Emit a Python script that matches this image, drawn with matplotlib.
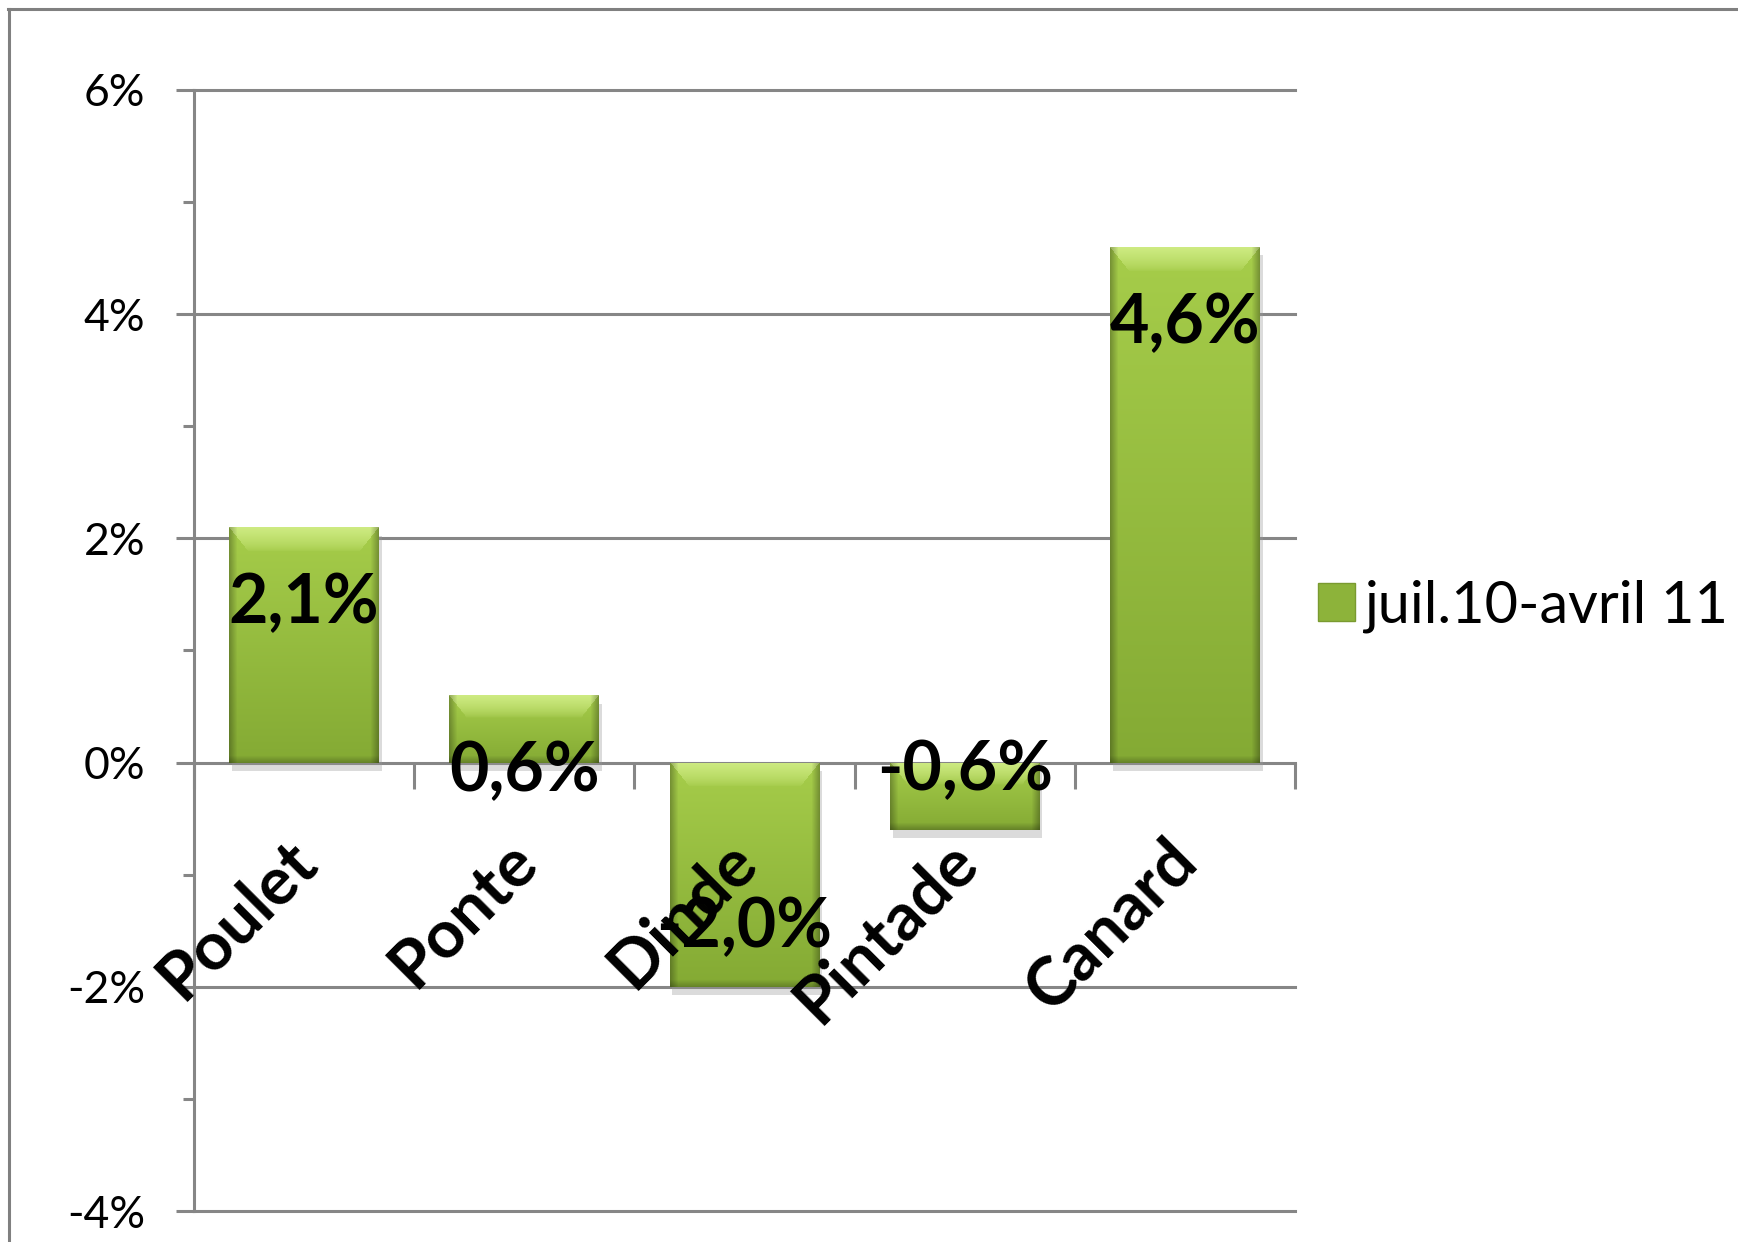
import numpy as np
import matplotlib
matplotlib.use('Agg')
import matplotlib.pyplot as plt
import matplotlib.transforms as mtrans
from matplotlib.lines import Line2D
from matplotlib.patches import Rectangle
from matplotlib.colors import to_rgb

# ---- data ----
categories = ['Poulet', 'Ponte', 'Dinde', 'Pintade', 'Canard']
values = [2.1, 0.6, -2.0, -0.6, 4.6]
value_labels = ['2,1%', '0,6%', '-2,0%', '-0,6%', '4,6%']
series_name = 'juil.10-avril 11'
y_ticks = [-4, -2, 0, 2, 4, 6]
y_tick_labels = ['-4%', '-2%', '0%', '2%', '4%', '6%']
y_minor_ticks = [-3, -1, 1, 3, 5]

plt.rcParams['font.family'] = ['Lato', 'DejaVu Sans']

W, H = 1738, 1242
DPI = 100
fig = plt.figure(figsize=(W / DPI, H / DPI), dpi=DPI)
fig.patch.set_facecolor('white')
ax = fig.add_axes([194 / W, 1 - 1211 / H, (1295 - 194) / W, (1211 - 90) / H])
ax.set_xlim(-0.5, len(categories) - 0.5)
ax.set_ylim(min(y_ticks), max(y_ticks))

grid_c = '#868686'
lw = 2.2

# gridlines
for yv in y_ticks:
    if yv != 0:
        ax.axhline(yv, color=grid_c, lw=lw, zorder=0, clip_on=False)

# spines / axes
for s in ['top', 'right']:
    ax.spines[s].set_visible(False)
ax.spines['left'].set_color(grid_c)
ax.spines['left'].set_linewidth(lw)
ax.spines['bottom'].set_position(('data', 0))
ax.spines['bottom'].set_color(grid_c)
ax.spines['bottom'].set_linewidth(lw)
ax.spines['bottom'].set_zorder(1)

ax.set_yticks(y_ticks)
ax.set_yticklabels(y_tick_labels)
ax.set_yticks(y_minor_ticks, minor=True)
ax.tick_params(axis='y', which='major', direction='out', length=13, width=lw,
               color=grid_c, labelsize=32, pad=22)
ax.tick_params(axis='y', which='minor', direction='out', length=8, width=lw,
               color=grid_c)

x = np.arange(len(categories))
ax.set_xticks(np.arange(len(categories) + 1) - 0.5)
ax.set_xticklabels([])
ax.tick_params(axis='x', which='major', direction='out', length=19, width=lw,
               color=grid_c)

# bars
bars = ax.bar(x, values, width=0.68, color='#8db33a', edgecolor='none', zorder=2)

fig.canvas.draw()


def bar_image(wp, hp):
    wp = max(int(round(wp)), 2)
    hp = max(int(round(hp)), 2)
    top = np.array(to_rgb('#a6cd4a'))
    bot = np.array(to_rgb('#84aa34'))
    t = np.linspace(0, 1, hp)[:, None, None]
    img = top * (1 - t) + bot * t
    img = np.repeat(img, wp, axis=1)
    # bevel highlight at top
    bevel = min(24, hp // 3)
    hl = np.array(to_rgb('#d2ee88'))
    xs = np.arange(wp)
    d = np.minimum(xs, wp - 1 - xs)
    for r in range(bevel):
        a = 0.9 * (1 - r / max(bevel, 1)) ** 0.7
        mask = d >= r * 0.8  # trapezoid-like bevel
        img[r, mask, :] = img[r, mask, :] * (1 - a) + hl * a
    # dark side edges
    edge = 8
    fac = np.where(d < edge, 0.72 + 0.28 * d / edge, 1.0)
    img = img * fac[None, :, None]
    # dark bottom edge
    be = min(7, hp // 4)
    for r in range(be):
        img[hp - 1 - r, :, :] *= 0.78 + 0.22 * r / max(be, 1)
    return np.clip(img, 0, 1)


for rect in bars:
    bx0 = rect.get_x()
    bx1 = bx0 + rect.get_width()
    by0 = min(rect.get_y(), rect.get_y() + rect.get_height())
    by1 = max(rect.get_y(), rect.get_y() + rect.get_height())
    p0 = ax.transData.transform((bx0, by0))
    p1 = ax.transData.transform((bx1, by1))
    img = bar_image(abs(p1[0] - p0[0]), abs(p1[1] - p0[1]))
    # soft shadow
    sh = Rectangle((bx0, by0), bx1 - bx0, by1 - by0, facecolor='#999999',
                   alpha=0.35, edgecolor='none', zorder=1.5)
    sh.set_transform(ax.transData + mtrans.ScaledTranslation(2 / 72, -6 / 72, fig.dpi_scale_trans))
    ax.add_patch(sh)
    im = ax.imshow(img, extent=(bx0, bx1, by0, by1), origin='upper',
                   aspect='auto', zorder=2.5, interpolation='bilinear')
    im.set_clip_path(rect)

ax.set_xlim(-0.5, len(categories) - 0.5)
ax.set_ylim(min(y_ticks), max(y_ticks))

# value labels
for xi, v, lab in zip(x, values, value_labels):
    off = -96 if v >= 0 else 40
    ax.annotate(lab, xy=(xi, v), xytext=(0, off), textcoords='offset pixels',
                ha='center', va='baseline', fontsize=49, fontweight='bold',
                color='black', zorder=5, annotation_clip=False)

# category labels
for xi, cat in zip(x, categories):
    ax.annotate(cat, xy=(xi, 0), xytext=(24, -66), textcoords='offset pixels',
                ha='right', va='top', rotation=45, fontsize=48,
                fontweight='bold', color='black', zorder=6,
                annotation_clip=False)

# legend
handle = Rectangle((0, 0), 1, 1, facecolor='#8db33a', edgecolor='#7a9a30')
fig.legend([handle], [series_name], loc='center left',
           bbox_to_anchor=(1318 / W, 1 - 606 / H), frameon=False,
           borderpad=0, borderaxespad=0, handlelength=0.64, handleheight=0.64,
           handletextpad=0.16, fontsize=41.5)

# outer chart frame
fig.add_artist(Line2D([8 / W, 1], [1 - 8.5 / H, 1 - 8.5 / H],
                      transform=fig.transFigure, color='#808080', lw=lw))
fig.add_artist(Line2D([8.5 / W, 8.5 / W], [0, 1 - 8.5 / H],
                      transform=fig.transFigure, color='#808080', lw=lw))

fig.savefig('out.png', dpi=DPI, facecolor='white')
